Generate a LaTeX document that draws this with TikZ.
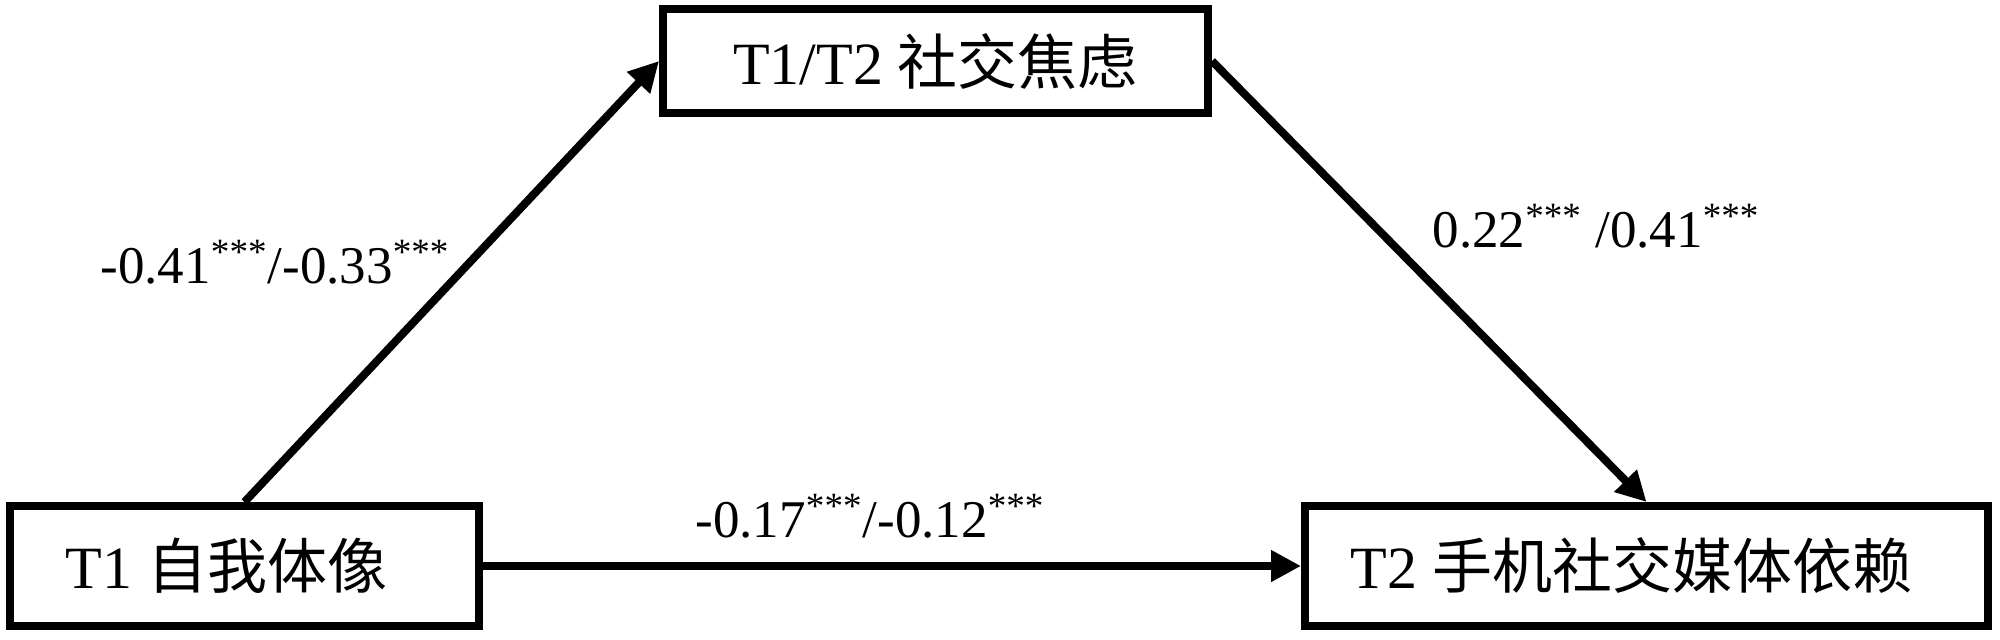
\documentclass[tikz,border=0pt]{standalone}
\usepackage{fontspec}
\setmainfont{Liberation Serif}
\newfontfamily\cjk{Noto Sans CJK SC}
\usetikzlibrary{arrows.meta}
\begin{document}
\begin{tikzpicture}[x=0.5pt,y=-0.5pt,
  box/.style={draw, line width=4pt, inner sep=0pt, font=\fontsize{30}{36}\selectfont},
  lab/.style={font=\fontsize{26.5}{32}\selectfont, inner sep=0pt, anchor=base},
  arr/.style={line width=4pt, -{Triangle[length=15pt,width=15pt]}}]
\useasboundingbox (0,0) rectangle (2000,639);
\node[box, minimum width=272.5pt, minimum height=52pt] (T) at (935.5,61) {T1/T2 {\cjk 社交焦虑}};
\node[box, minimum width=234.5pt, minimum height=60pt] (L) at (244.5,566) {T1 {\cjk 自我体像}\hspace*{18pt}};
\node[box, minimum width=341.5pt, minimum height=60pt] (R) at (1646.5,566) {T2 {\cjk 手机社交媒体依赖}\hspace*{15pt}};
\draw[arr] (L.north) -- (T.west);
\draw[arr] (T.east) -- (R.north);
\draw[arr] (L.east) -- (R.west);
\node[lab] (a) at (275,283) {-0.41\textsuperscript{***}/-0.33\textsuperscript{***}};
\node[lab] (b) at (1596,247) {0.22\textsuperscript{***} /0.41\textsuperscript{***}};
\node[lab] (c) at (870,537) {-0.17\textsuperscript{***}/-0.12\textsuperscript{***}};
\end{tikzpicture}
\end{document}
